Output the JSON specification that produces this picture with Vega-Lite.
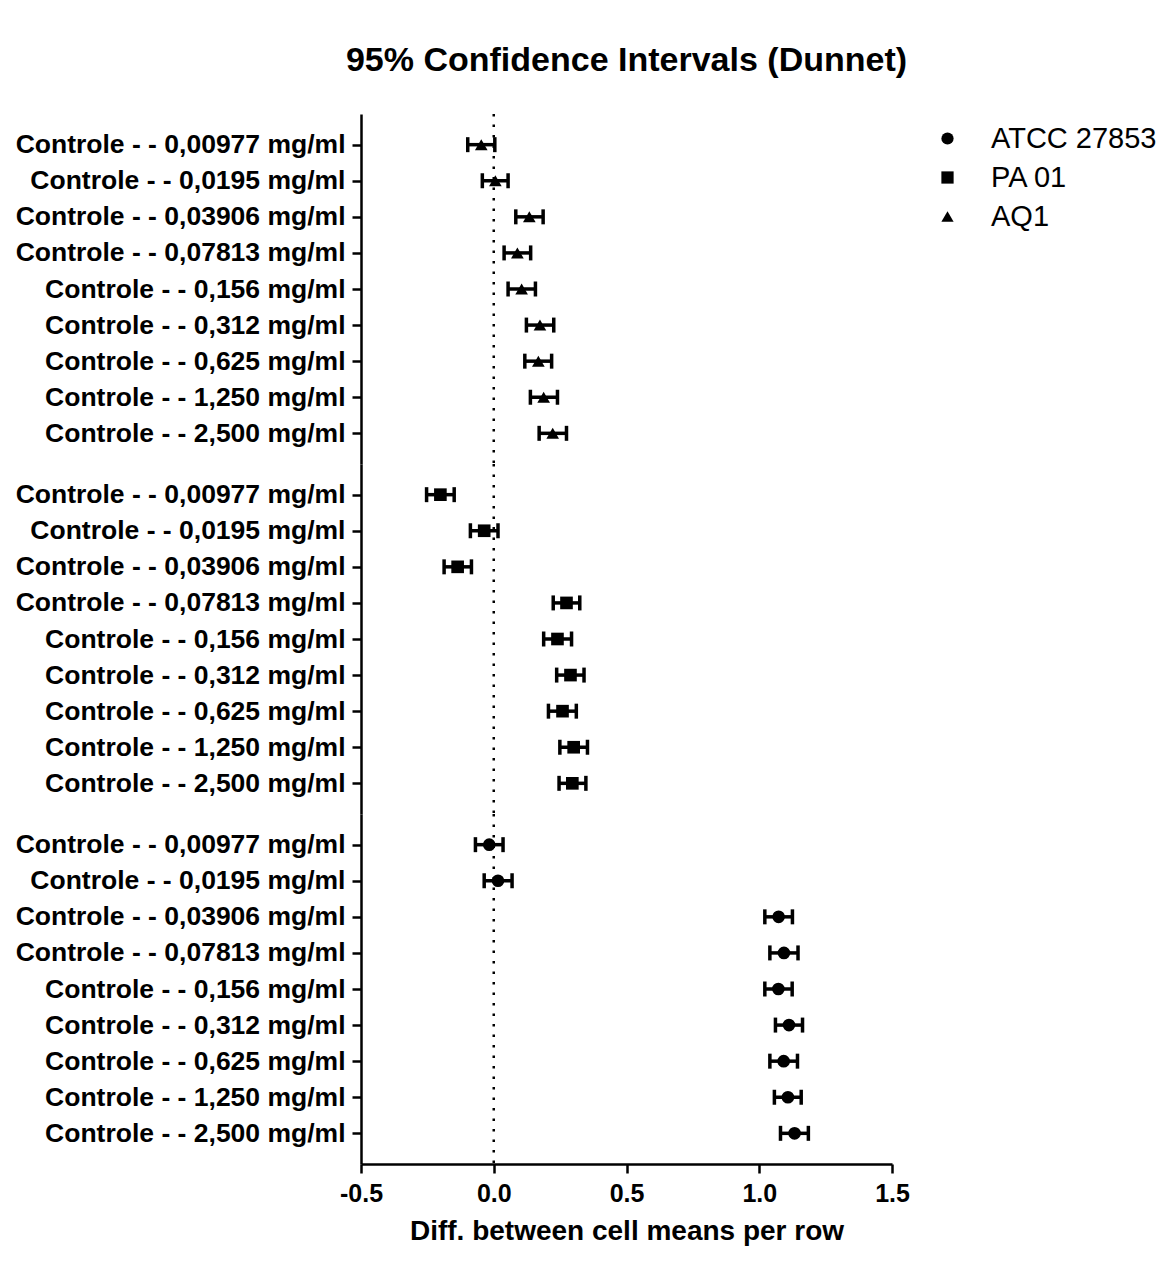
{
  "$schema": "https://vega.github.io/schema/vega-lite/v6.json",
  "background": "white",
  "padding": {"left": 15, "top": 43, "right": 5, "bottom": 5},
  "datasets": {
    "ci": [
      {"strain": "AQ1", "comparison": "Controle - - 0,00977 mg/ml", "diff": -0.047, "lo": -0.098, "hi": 0.004},
      {"strain": "AQ1", "comparison": "Controle - - 0,0195 mg/ml", "diff": 0.006, "lo": -0.043, "hi": 0.054},
      {"strain": "AQ1", "comparison": "Controle - - 0,03906 mg/ml", "diff": 0.134, "lo": 0.083, "hi": 0.186},
      {"strain": "AQ1", "comparison": "Controle - - 0,07813 mg/ml", "diff": 0.089, "lo": 0.039, "hi": 0.139},
      {"strain": "AQ1", "comparison": "Controle - - 0,156 mg/ml", "diff": 0.105, "lo": 0.054, "hi": 0.157},
      {"strain": "AQ1", "comparison": "Controle - - 0,312 mg/ml", "diff": 0.174, "lo": 0.123, "hi": 0.226},
      {"strain": "AQ1", "comparison": "Controle - - 0,625 mg/ml", "diff": 0.168, "lo": 0.117, "hi": 0.218},
      {"strain": "AQ1", "comparison": "Controle - - 1,250 mg/ml", "diff": 0.188, "lo": 0.138, "hi": 0.240},
      {"strain": "AQ1", "comparison": "Controle - - 2,500 mg/ml", "diff": 0.222, "lo": 0.171, "hi": 0.274},
      {"strain": "PA 01", "comparison": "Controle - - 0,00977 mg/ml", "diff": -0.201, "lo": -0.253, "hi": -0.149},
      {"strain": "PA 01", "comparison": "Controle - - 0,0195 mg/ml", "diff": -0.036, "lo": -0.088, "hi": 0.016},
      {"strain": "PA 01", "comparison": "Controle - - 0,03906 mg/ml", "diff": -0.136, "lo": -0.187, "hi": -0.084},
      {"strain": "PA 01", "comparison": "Controle - - 0,07813 mg/ml", "diff": 0.274, "lo": 0.224, "hi": 0.324},
      {"strain": "PA 01", "comparison": "Controle - - 0,156 mg/ml", "diff": 0.240, "lo": 0.188, "hi": 0.293},
      {"strain": "PA 01", "comparison": "Controle - - 0,312 mg/ml", "diff": 0.289, "lo": 0.237, "hi": 0.340},
      {"strain": "PA 01", "comparison": "Controle - - 0,625 mg/ml", "diff": 0.259, "lo": 0.206, "hi": 0.311},
      {"strain": "PA 01", "comparison": "Controle - - 1,250 mg/ml", "diff": 0.301, "lo": 0.249, "hi": 0.353},
      {"strain": "PA 01", "comparison": "Controle - - 2,500 mg/ml", "diff": 0.296, "lo": 0.246, "hi": 0.347},
      {"strain": "ATCC 27853", "comparison": "Controle - - 0,00977 mg/ml", "diff": -0.017, "lo": -0.069, "hi": 0.035},
      {"strain": "ATCC 27853", "comparison": "Controle - - 0,0195 mg/ml", "diff": 0.016, "lo": -0.036, "hi": 0.069},
      {"strain": "ATCC 27853", "comparison": "Controle - - 0,03906 mg/ml", "diff": 1.073, "lo": 1.021, "hi": 1.125},
      {"strain": "ATCC 27853", "comparison": "Controle - - 0,07813 mg/ml", "diff": 1.093, "lo": 1.040, "hi": 1.146},
      {"strain": "ATCC 27853", "comparison": "Controle - - 0,156 mg/ml", "diff": 1.072, "lo": 1.021, "hi": 1.124},
      {"strain": "ATCC 27853", "comparison": "Controle - - 0,312 mg/ml", "diff": 1.112, "lo": 1.061, "hi": 1.163},
      {"strain": "ATCC 27853", "comparison": "Controle - - 0,625 mg/ml", "diff": 1.092, "lo": 1.040, "hi": 1.144},
      {"strain": "ATCC 27853", "comparison": "Controle - - 1,250 mg/ml", "diff": 1.108, "lo": 1.057, "hi": 1.158},
      {"strain": "ATCC 27853", "comparison": "Controle - - 2,500 mg/ml", "diff": 1.133, "lo": 1.080, "hi": 1.185}
    ],
    "ref": [{"zero": 0}]
  },
  "config": {
    "font": "Liberation Sans",
    "view": {"stroke": null},
    "axis": {
      "domainColor": "black", "domainWidth": 2.5, "tickColor": "black", "tickWidth": 2.5, "tickSize": 9,
      "labelColor": "black", "labelFont": "Liberation Sans", "labelFontWeight": "bold", "labelFontSize": 26.5, "labelLimit": 0,
      "titleColor": "black", "titleFont": "Liberation Sans", "titleFontWeight": "bold", "titleFontSize": 28,
      "grid": false
    },
    "title": {"font": "Liberation Sans", "fontWeight": "bold", "fontSize": 34, "color": "black"}
  },
  "spacing": 0,
  "bounds": "flush",
  "resolve": {"scale": {"shape": "shared", "x": "independent"}},
  "vconcat": [
    {
      "width": 531, "height": 350,
      "title": {"text": "95% Confidence Intervals (Dunnet)", "anchor": "middle", "offset": 35},
      "layer": [
        {"data": {"name": "ref"}, "mark": {"type": "rule", "strokeDash": [2.5, 8], "strokeWidth": 2.5, "color": "black"},
         "encoding": {"x": {"field": "zero", "type": "quantitative", "scale": {"domain": [-0.5, 1.5], "nice": false, "zero": false}, "axis": null}}},
        {"data": {"name": "ci"}, "transform": [{"filter": "datum.strain === 'AQ1'"}],
         "encoding": {
           "y": {"field": "comparison", "type": "nominal", "sort": null, "scale": {"type": "point", "padding": 0.85}, "axis": {"title": null, "labelPadding": 7}}
         },
         "layer": [
           {"mark": {"type": "rule", "strokeWidth": 3.5, "color": "black"},
            "encoding": {"x": {"field": "lo", "type": "quantitative", "axis": null}, "x2": {"field": "hi"}}},
           {"mark": {"type": "tick", "size": 15, "thickness": 3.5, "color": "black", "opacity": 1},
            "encoding": {"x": {"field": "lo", "type": "quantitative"}}},
           {"mark": {"type": "tick", "size": 15, "thickness": 3.5, "color": "black", "opacity": 1},
            "encoding": {"x": {"field": "hi", "type": "quantitative"}}},
           {"mark": {"type": "point", "filled": true, "size": 160, "color": "black", "opacity": 1},
            "encoding": {"x": {"field": "diff", "type": "quantitative"},
              "shape": {"field": "strain", "type": "nominal", "scale": {"domain": ["ATCC 27853", "PA 01", "AQ1"], "range": ["circle", "square", "triangle-up"]},
                "legend": {"title": null, "orient": "none", "legendX": 572, "legendY": 10, "padding": 0, "labelFontSize": 29, "labelLimit": 0, "labelFont": "Liberation Sans", "labelColor": "black", "symbolSize": 150, "symbolFillColor": "black", "symbolStrokeColor": "black", "labelOffset": 29, "rowPadding": 9}}}}
         ]}
      ]
    },
    {
      "width": 531, "height": 350,
      "layer": [
        {"data": {"name": "ref"}, "mark": {"type": "rule", "strokeDash": [2.5, 8], "strokeWidth": 2.5, "color": "black"},
         "encoding": {"x": {"field": "zero", "type": "quantitative", "scale": {"domain": [-0.5, 1.5], "nice": false, "zero": false}, "axis": null}}},
        {"data": {"name": "ci"}, "transform": [{"filter": "datum.strain === 'PA 01'"}],
         "encoding": {
           "y": {"field": "comparison", "type": "nominal", "sort": null, "scale": {"type": "point", "padding": 0.85}, "axis": {"title": null, "labelPadding": 7}}
         },
         "layer": [
           {"mark": {"type": "rule", "strokeWidth": 3.5, "color": "black"},
            "encoding": {"x": {"field": "lo", "type": "quantitative", "axis": null}, "x2": {"field": "hi"}}},
           {"mark": {"type": "tick", "size": 15, "thickness": 3.5, "color": "black", "opacity": 1},
            "encoding": {"x": {"field": "lo", "type": "quantitative"}}},
           {"mark": {"type": "tick", "size": 15, "thickness": 3.5, "color": "black", "opacity": 1},
            "encoding": {"x": {"field": "hi", "type": "quantitative"}}},
           {"mark": {"type": "point", "filled": true, "size": 160, "color": "black", "opacity": 1},
            "encoding": {"x": {"field": "diff", "type": "quantitative"},
              "shape": {"field": "strain", "type": "nominal"}}}
         ]}
      ]
    },
    {
      "width": 531, "height": 350,
      "layer": [
        {"data": {"name": "ref"}, "mark": {"type": "rule", "strokeDash": [2.5, 8], "strokeWidth": 2.5, "color": "black"},
         "encoding": {"x": {"field": "zero", "type": "quantitative", "scale": {"domain": [-0.5, 1.5], "nice": false, "zero": false},
           "axis": {"values": [-0.5, 0, 0.5, 1, 1.5], "labelFlush": false, "labelExpr": "datum.value < 0 ? '-' + format(-datum.value, '.1f') : format(datum.value, '.1f')", "title": "Diff. between cell means per row", "labelPadding": 8, "titlePadding": 11, "labelFontSize": 25}}}},
        {"data": {"name": "ci"}, "transform": [{"filter": "datum.strain === 'ATCC 27853'"}],
         "encoding": {
           "y": {"field": "comparison", "type": "nominal", "sort": null, "scale": {"type": "point", "padding": 0.85}, "axis": {"title": null, "labelPadding": 7}}
         },
         "layer": [
           {"mark": {"type": "rule", "strokeWidth": 3.5, "color": "black"},
            "encoding": {"x": {"field": "lo", "type": "quantitative"}, "x2": {"field": "hi"}}},
           {"mark": {"type": "tick", "size": 15, "thickness": 3.5, "color": "black", "opacity": 1},
            "encoding": {"x": {"field": "lo", "type": "quantitative"}}},
           {"mark": {"type": "tick", "size": 15, "thickness": 3.5, "color": "black", "opacity": 1},
            "encoding": {"x": {"field": "hi", "type": "quantitative"}}},
           {"mark": {"type": "point", "filled": true, "size": 160, "color": "black", "opacity": 1},
            "encoding": {"x": {"field": "diff", "type": "quantitative"},
              "shape": {"field": "strain", "type": "nominal"}}}
         ]}
      ]
    }
  ]
}
